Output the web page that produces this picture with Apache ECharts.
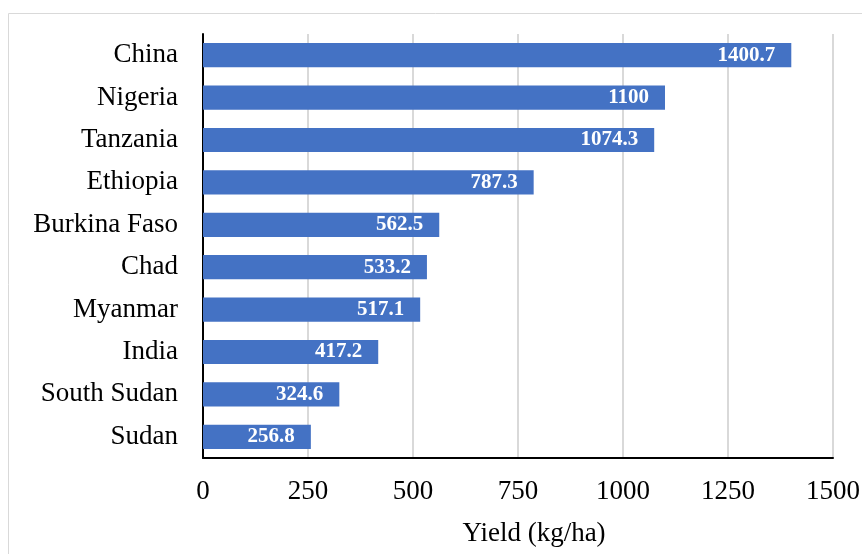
<!DOCTYPE html>
<html>
<head>
<meta charset="utf-8">
<script src="https://cdn.jsdelivr.net/npm/echarts@6/dist/echarts.min.js"></script>
<style>
  html, body { margin: 0; padding: 0; background: #fff; }
  #chart { width: 862px; height: 554px; }
</style>
</head>
<body>
<div id="chart"></div>
<script>
// Crop yield by country (kg/ha)
const countries = ['China', 'Nigeria', 'Tanzania', 'Ethiopia', 'Burkina Faso', 'Chad', 'Myanmar', 'India', 'South Sudan', 'Sudan'];
const yields = [1400.7, 1100, 1074.3, 787.3, 562.5, 533.2, 517.1, 417.2, 324.6, 256.8];
const axisTicks = [0, 250, 500, 750, 1000, 1250, 1500];
const axisTitle = 'Yield (kg/ha)';

const FONT = '"Liberation Serif", "Times New Roman", serif';

const chart = echarts.init(document.getElementById('chart'));
chart.setOption({
  animation: false,
  graphic: [{
    type: 'rect',
    shape: { x: 8.5, y: 13.5, width: 900, height: 600 },
    style: { fill: 'none', stroke: '#d9d9d9', lineWidth: 1 },
    silent: true
  }],
  grid: { left: 203, right: 29, top: 34, bottom: 96, containLabel: false, outerBoundsMode: 'none' },
  xAxis: {
    type: 'value',
    min: axisTicks[0],
    max: axisTicks[axisTicks.length - 1],
    interval: axisTicks[1] - axisTicks[0],
    name: axisTitle,
    nameLocation: 'middle',
    nameGap: 62,
    nameTextStyle: { fontFamily: FONT, fontSize: 27, color: '#000', padding: [0, 0, 0, 32] },
    axisLine: { show: true, lineStyle: { color: '#000', width: 2 } },
    axisTick: { show: false },
    axisLabel: { fontFamily: FONT, fontSize: 27, color: '#000', margin: 20, formatter: v => String(v) },
    splitLine: { show: true, lineStyle: { color: '#d9d9d9', width: 2 } }
  },
  yAxis: {
    type: 'category',
    data: countries,
    inverse: true,
    axisLine: { show: true, lineStyle: { color: '#000', width: 2 } },
    axisTick: { show: false },
    axisLabel: { fontFamily: FONT, fontSize: 27, color: '#000', margin: 25 },
    splitLine: { show: false }
  },
  series: [{
    type: 'bar',
    data: yields,
    barCategoryGap: '43%',
    itemStyle: { color: '#4472C4' },
    label: {
      show: true,
      position: 'insideRight',
      distance: 16,
      fontFamily: FONT,
      fontSize: 21,
      fontWeight: 'bold',
      color: '#fff'
    }
  }]
});
</script>
</body>
</html>
